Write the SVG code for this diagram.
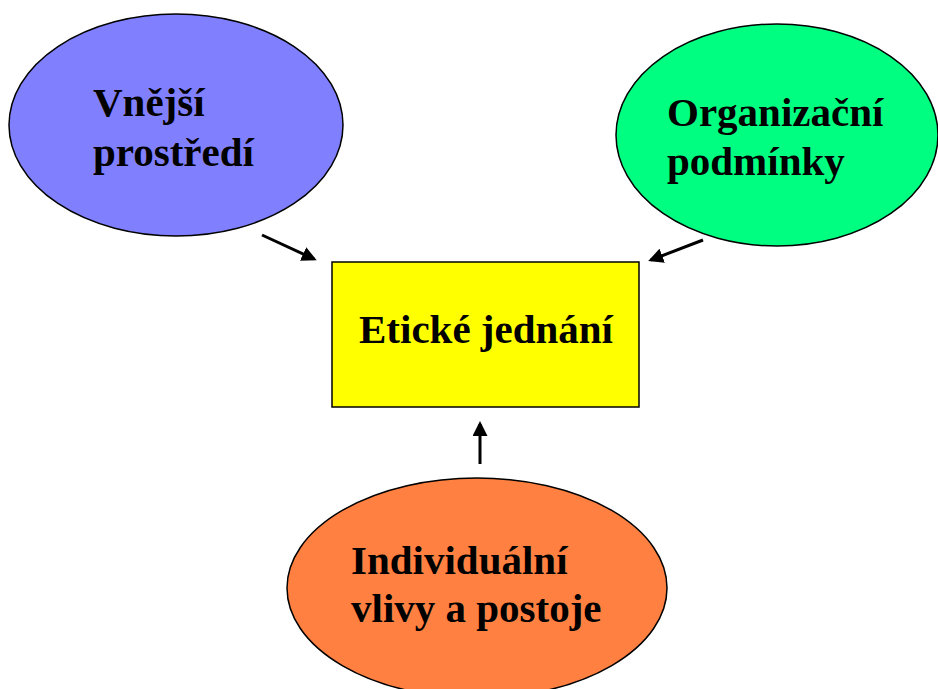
<svg xmlns="http://www.w3.org/2000/svg" width="938" height="689" viewBox="0 0 938 689">
<style>
.n{stroke:#000;stroke-width:1.5}
.t{font-family:"Liberation Serif","Times New Roman",serif;font-weight:bold;font-size:41px;fill:#000}
.c{stroke:#000;stroke-width:3;fill:none;marker-end:url(#ah)}
</style>
<defs>
<marker id="ah" markerWidth="5" markerHeight="5" refX="4" refY="2.5" orient="auto" markerUnits="strokeWidth">
<path d="M0,0 L5,2.5 L0,5 Z" fill="#000"/>
</marker>
</defs>
<rect width="938" height="689" fill="#fff"/>
<g id="vnejsi">
<ellipse class="n" cx="176" cy="125" rx="167" ry="111" fill="#8080ff"/>
<text class="t" x="93" y="116">Vnější</text>
<text class="t" x="93" y="166">prostředí</text>
</g>
<g id="organizacni">
<ellipse class="n" cx="777" cy="135" rx="161" ry="111" fill="#00ff80"/>
<text class="t" x="667" y="126">Organizační</text>
<text class="t" x="667" y="175">podmínky</text>
</g>
<g id="eticke">
<rect class="n" x="332" y="262" width="307" height="145" fill="#ffff00"/>
<text class="t" x="359" y="343">Etické jednání</text>
</g>
<g id="individualni">
<ellipse class="n" cx="477" cy="588" rx="190" ry="110" fill="#ff8040"/>
<text class="t" x="351" y="574">Individuální</text>
<text class="t" x="351" y="622">vlivy a postoje</text>
</g>
<g id="connectors">
<line class="c" x1="262" y1="235" x2="314" y2="259"/>
<line class="c" x1="703" y1="240" x2="651" y2="260"/>
<line class="c" x1="480" y1="464" x2="480" y2="424"/>
</g>
</svg>
